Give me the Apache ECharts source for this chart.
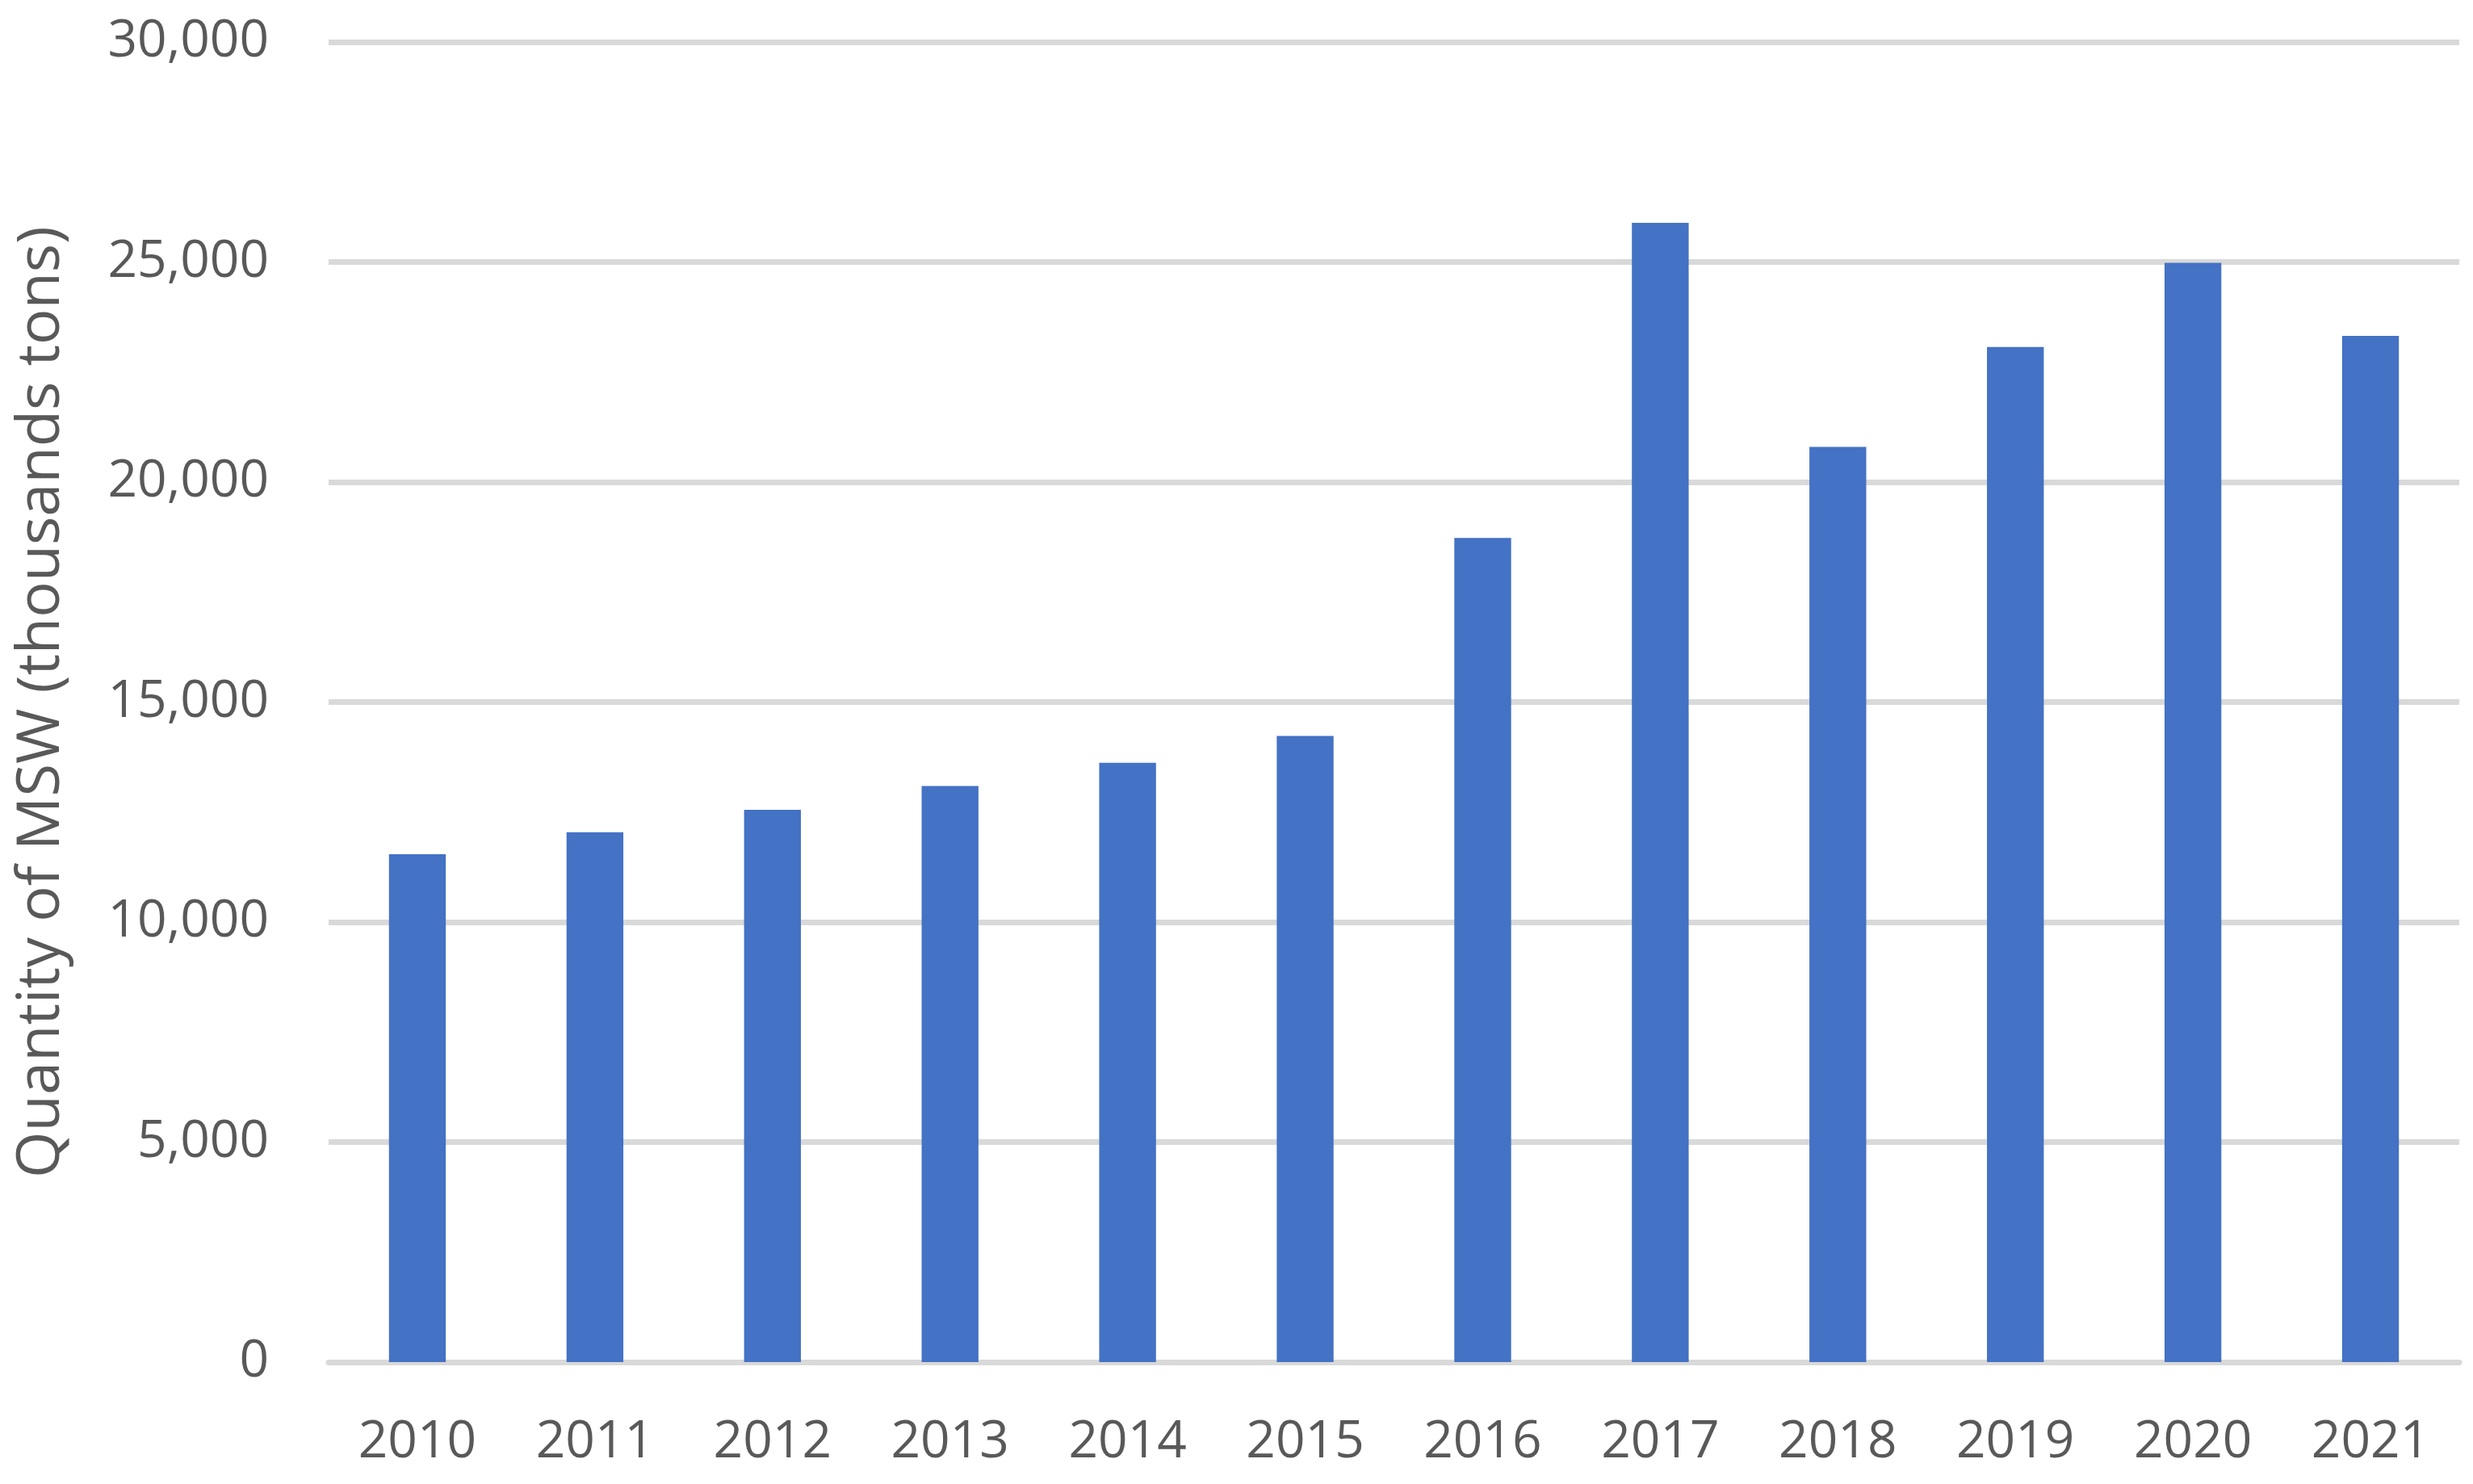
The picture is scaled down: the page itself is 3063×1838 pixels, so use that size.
<!DOCTYPE html>
<html>
<head>
<meta charset="utf-8">
<script src="https://cdn.jsdelivr.net/npm/echarts@6/dist/echarts.min.js"></script>
<style>
    html, body { margin: 0; padding: 0; background: #fff; }
    #chart { width: 3063px; height: 1838px; }
</style>
</head>
<body>
<div id="chart"></div>
<script>
// 年份
var years = ['2010', '2011', '2012', '2013', '2014', '2015', '2016', '2017', '2018', '2019', '2020', '2021'];
// 城市生活垃圾数量（千吨）
var mswQuantity = [11540, 12040, 12550, 13090, 13620, 14230, 18730, 25890, 20800, 23070, 24980, 23320];
// 纵轴刻度
var yMin = 0;
var yMax = 30000;
var yStep = 5000;

var textColor = '#595959';
var fontName = 'Open Sans';

var myChart = echarts.init(document.getElementById('chart'));
var options = {
    animation: false,
    grid: {
        left: 407,
        right: 17,
        top: 52,
        bottom: 151
    },
    xAxis: {
        type: 'category',
        data: years,
        axisTick: { show: false },
        axisLine: {
            show: true,
            lineStyle: { color: '#d9d9d9', width: 7 }
        },
        axisLabel: {
            color: textColor,
            fontFamily: fontName,
            fontSize: 64,
            margin: 68
        }
    },
    yAxis: {
        type: 'value',
        min: yMin,
        max: yMax,
        interval: yStep,
        name: 'Quantity of MSW (thousands tons)',
        nameLocation: 'middle',
        nameGap: 318,
        nameTextStyle: {
            color: textColor,
            fontFamily: fontName,
            fontSize: 74
        },
        axisLine: { show: false },
        axisTick: { show: false },
        axisLabel: {
            color: textColor,
            fontFamily: fontName,
            fontSize: 64,
            margin: 74,
            formatter: function (v) {
                return v.toLocaleString('en-US');
            }
        },
        splitLine: {
            lineStyle: { color: '#d9d9d9', width: 7 }
        }
    },
    series: [
        {
            type: 'bar',
            data: mswQuantity,
            barWidth: '32%',
            itemStyle: { color: '#4472c4' }
        }
    ]
};
myChart.setOption(options);
</script>
</body>
</html>
